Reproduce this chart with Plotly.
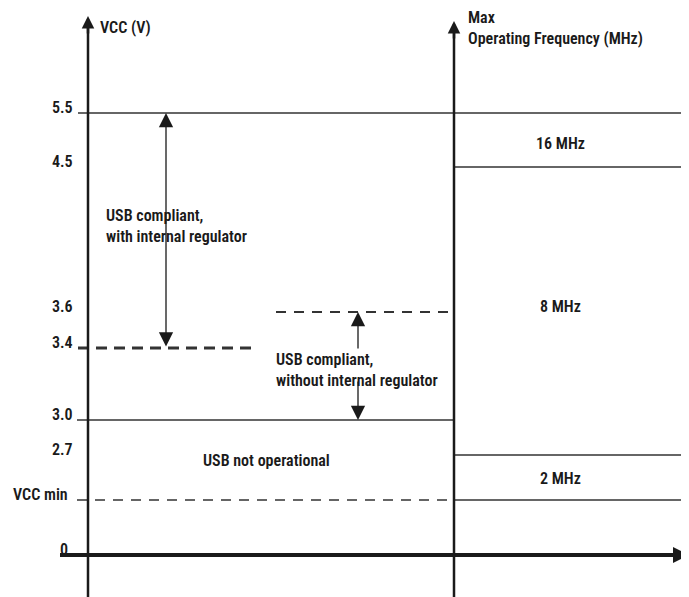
import plotly.graph_objects as go

# Schematic voltage levels (label, diagram height in schematic units)
level_labels = ["0", "VCC min", "2.7", "3.0", "3.4", "3.6", "4.5", "5.5"]
level_heights = [0.0, 0.55, 1.00, 1.35, 2.07, 2.43, 3.88, 4.42]
lvl = dict(zip(level_labels, level_heights))

freq_labels = ["16 MHz", "8 MHz", "2 MHz"]
freq_heights = [4.12, 2.49, 0.77]

region_labels = ["USB compliant,<br>with internal regulator",
                 "USB compliant,<br>without internal regulator",
                 "USB not operational"]

FONT = "Liberation Sans Narrow, Arial Narrow, Roboto Condensed, sans-serif"
INK = "#1a1a1a"
XL, XR = 88, 454  # left axis, right axis x
YMIN, YMAX = -0.50, 5.47

fig = go.Figure()

def line(x0, x1, y, width=1.5, dash=None, color="#333333"):
    fig.add_trace(go.Scatter(x=[x0, x1], y=[y, y], mode="lines",
                             line=dict(color=color, width=width, dash=dash),
                             hoverinfo="skip", showlegend=False))

# level lines
line(78, 689, lvl["5.5"])
line(XR, 689, lvl["4.5"])
line(276, XR, lvl["3.6"], width=2, dash="10px,8px")
line(78, 255, lvl["3.4"], width=3, dash="11px,7px")
line(77, XR, lvl["3.0"])
line(XR, 689, lvl["2.7"])
line(77, XR, lvl["VCC min"], width=1.5, dash="10px,8px")
line(XR, 689, lvl["VCC min"])
# baseline
line(60, 684, lvl["0"], width=4, color="#1a1a1a")
# axes
fig.add_trace(go.Scatter(x=[XL, XL], y=[YMIN, 5.32], mode="lines",
                         line=dict(color="#1a1a1a", width=2.5), hoverinfo="skip", showlegend=False))
fig.add_trace(go.Scatter(x=[XR, XR], y=[YMIN, 5.27], mode="lines",
                         line=dict(color="#1a1a1a", width=2.5), hoverinfo="skip", showlegend=False))

ann = []
# axis arrowheads
ann.append(dict(x=XL, y=5.39, ax=XL, ay=5.2, xref="x", yref="y", axref="x", ayref="y",
                showarrow=True, arrowhead=2, arrowsize=1, arrowwidth=2.5, arrowcolor="#1a1a1a", text=""))
ann.append(dict(x=XR, y=5.34, ax=XR, ay=5.15, xref="x", yref="y", axref="x", ayref="y",
                showarrow=True, arrowhead=2, arrowsize=1, arrowwidth=2.5, arrowcolor="#1a1a1a", text=""))
ann.append(dict(x=689, y=0, ax=660, ay=0, xref="x", yref="y", axref="x", ayref="y",
                showarrow=True, arrowhead=2, arrowsize=0.8, arrowwidth=4, arrowcolor="#1a1a1a", text=""))

ARW = dict(arrowsize=2.2, arrowwidth=1.3, arrowcolor="#1a1a1a")
# double arrow with internal regulator
ann.append(dict(x=166, y=lvl["5.5"], ax=166, ay=lvl["3.4"], xref="x", yref="y", axref="x", ayref="y",
                showarrow=True, arrowhead=2, startarrowhead=2, arrowside="end+start",
                startarrowsize=2.2, text="", **ARW))
# arrow without internal regulator (two parts)
ann.append(dict(x=358, y=lvl["3.6"], ax=358, ay=2.05, xref="x", yref="y", axref="x", ayref="y",
                showarrow=True, arrowhead=2, text="", **ARW))
ann.append(dict(x=358, y=lvl["3.0"], ax=358, ay=1.75, xref="x", yref="y", axref="x", ayref="y",
                showarrow=True, arrowhead=2, text="", **ARW))

def text(x, y, s, xanchor="left", size=16, yanchor="middle"):
    ann.append(dict(x=x, y=y, xref="x", yref="y", text=s, showarrow=False,
                    xanchor=xanchor, yanchor=yanchor, align="left",
                    font=dict(family=FONT, size=size, color=INK, weight=600)))

# tick labels (above each level)
label_x = {"0": 70, "VCC min": 70}
for lab, h in zip(level_labels, level_heights):
    text(label_x.get(lab, 75), h + 0.06, lab, xanchor="right")

# axis titles
text(98, 5.28, "VCC (V)")
text(466, 5.27, "Max<br>Operating Frequency (MHz)")

# frequency labels
for lab, h in zip(freq_labels, freq_heights):
    text(560, h, lab, xanchor="center")

# region labels
text(104, 3.29, region_labels[0])
text(274, 1.85, region_labels[1])
text(266, 0.95, region_labels[2], xanchor="center")

fig.update_layout(
    width=689, height=597, margin=dict(l=0, r=0, t=0, b=0),
    paper_bgcolor="white", plot_bgcolor="white",
    xaxis=dict(range=[8, 697], visible=False, fixedrange=True),
    yaxis=dict(range=[YMIN, YMAX], visible=False, fixedrange=True),
    annotations=ann, showlegend=False,
)
fig.write_html("out.html")
